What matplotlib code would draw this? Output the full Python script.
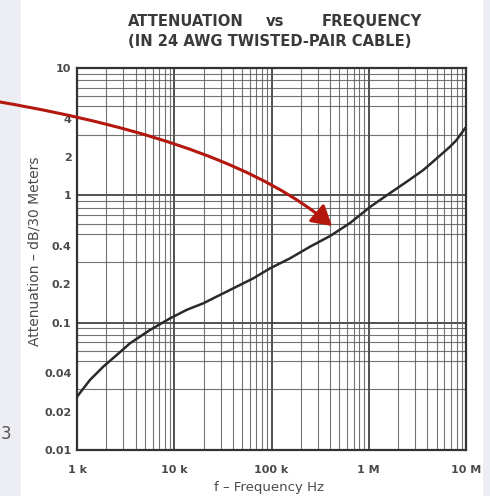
import matplotlib
matplotlib.use("Agg")
import matplotlib.pyplot as plt
from matplotlib.patches import Rectangle, FancyArrowPatch
from matplotlib.path import Path
from matplotlib.ticker import FixedLocator, LogLocator, NullFormatter
import matplotlib.transforms as mtransforms

# Attenuation of 24 AWG twisted-pair cable versus frequency
freq_hz = [1.0e3, 1.36e3, 1.86e3, 2.56e3, 3.51e3, 5.63e3, 9.04e3, 1.34e4,
           1.99e4, 2.95e4, 4.39e4, 6.50e4, 9.65e4, 1.55e5, 2.49e5, 4.0e5,
           6.42e5, 1.03e6, 1.65e6, 2.46e6, 3.64e6, 5.0e6, 6.85e6, 8.0e6,
           9.77e6]
atten_db = [0.0262, 0.0355, 0.0451, 0.0557, 0.0689, 0.0876, 0.108, 0.126,
            0.142, 0.165, 0.192, 0.223, 0.267, 0.320, 0.395, 0.479,
            0.606, 0.81, 1.04, 1.28, 1.58, 1.95, 2.41, 2.72,
            3.36]

y_ticks = [10, 4, 2, 1, 0.4, 0.2, 0.1, 0.04, 0.02, 0.01]
y_tick_labels = ["10", "4", "2", "1", "0.4", "0.2", "0.1", "0.04", "0.02", "0.01"]
x_ticks = [1e3, 1e4, 1e5, 1e6, 1e7]
x_tick_labels = ["1 k", "10 k", "100 k", "1 M", "10 M"]

W, H = 490, 496
plt.rcParams["font.family"] = ["DejaVu Sans"]
fig = plt.figure(figsize=(W / 100, H / 100), dpi=100)
fig.patch.set_facecolor("white")

# pixel coordinates (origin top-left) -> figure coordinates
px = mtransforms.Affine2D().scale(1 / W, -1 / H).translate(0, 1) + fig.transFigure

slide_bg = "#eceef3"
fig.add_artist(Rectangle((0, 0), 21, H, transform=px, facecolor=slide_bg,
                         edgecolor="none", zorder=-10))
fig.add_artist(Rectangle((483, 0), W - 483, H, transform=px, facecolor=slide_bg,
                         edgecolor="none", zorder=-10))
fig.text(1, 434, "3", transform=px, fontsize=12, color="#555555",
         va="center", ha="left")

ax = fig.add_axes([77 / W, 1 - 450 / H, 389 / W, 382 / H])
ax.set_xscale("log")
ax.set_yscale("log")
ax.set_xlim(1e3, 1e7)
ax.set_ylim(0.01, 10)

grid_col = "#5a5a5a"
ax.xaxis.set_minor_locator(LogLocator(base=10, subs=range(2, 10)))
ax.yaxis.set_minor_locator(LogLocator(base=10, subs=range(2, 10)))
ax.xaxis.set_minor_formatter(NullFormatter())
ax.yaxis.set_minor_formatter(NullFormatter())
ax.grid(which="minor", color=grid_col, lw=0.8, alpha=0.85)
for d in [1e4, 1e5, 1e6]:
    ax.axvline(d, color="#333333", lw=1.2, zorder=1)
for d in [0.1, 1]:
    ax.axhline(d, color="#333333", lw=1.2, zorder=1)

ax.yaxis.set_major_locator(FixedLocator(y_ticks))
ax.set_yticklabels(y_tick_labels)
ax.xaxis.set_major_locator(FixedLocator(x_ticks))
ax.set_xticklabels(x_tick_labels)
ax.tick_params(which="both", length=0)
ax.tick_params(axis="y", pad=4, labelsize=8, labelcolor="#4a4a4a")
ax.tick_params(axis="x", pad=10.5, labelsize=8, labelcolor="#4a4a4a")
for lab in ax.get_xticklabels() + ax.get_yticklabels():
    lab.set_fontweight("bold")

for s in ax.spines.values():
    s.set_color("#333333")
    s.set_linewidth(1.6)

ax.plot(freq_hz, atten_db, color="#2a2a2a", lw=1.8, zorder=3)

# axis titles
fig.text(35, 251, "Attenuation – dB/30 Meters", transform=px, fontsize=10,
         color="#4a4a4a", rotation=90, ha="center", va="center")
fig.text(269, 488, "f – Frequency Hz", transform=px, fontsize=9.5,
         color="#4a4a4a", ha="center", va="center")

# chart heading
title_kw = dict(transform=px, fontsize=10.6, fontweight="bold", color="#3a3a3a",
                va="center")
fig.text(185.5, 21.5, "ATTENUATION", ha="center", **title_kw)
fig.text(275, 21.5, "vs", ha="center", **title_kw)
fig.text(371.5, 21.5, "FREQUENCY", ha="center", **title_kw)
fig.text(269.5, 41.5, "(IN 24 AWG TWISTED-PAIR CABLE)", ha="center", **title_kw)

# callout arrow
arrow_path = Path([(0, 102), (233, 142), (332, 226)],
                  [Path.MOVETO, Path.CURVE3, Path.CURVE3])
arrow = FancyArrowPatch(path=arrow_path, transform=px,
                        arrowstyle="-|>,head_length=0.6,head_width=0.35",
                        mutation_scale=20, color="#b3170e", lw=2.2, zorder=6)
fig.add_artist(arrow)

fig.savefig("out.png", dpi=100)
